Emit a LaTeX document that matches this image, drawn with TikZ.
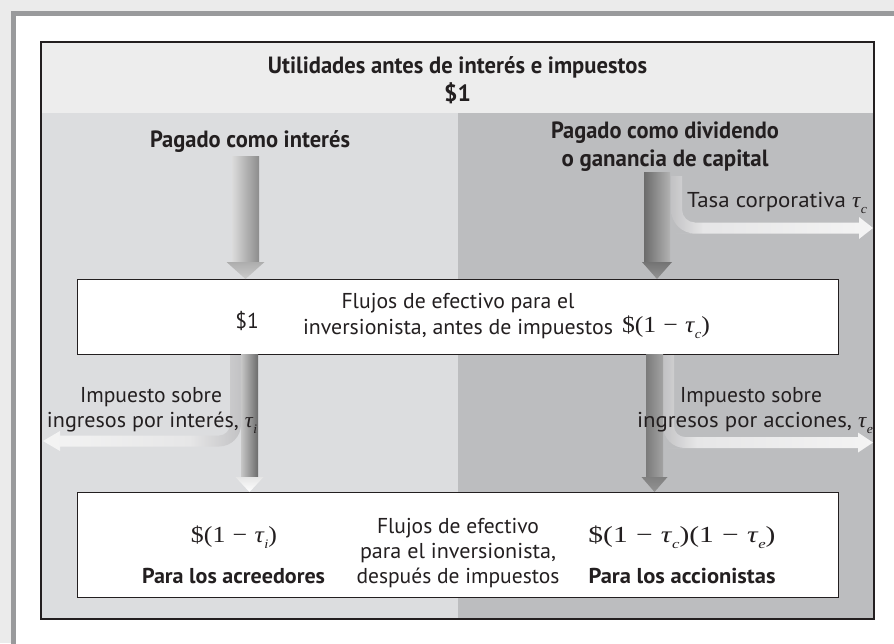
\documentclass[tikz,border=0pt]{standalone}
\usepackage{graphicx}
\usepackage{fontspec}
\setmainfont{PT Sans}
\newfontfamily\serifm{Liberation Serif}
\usetikzlibrary{calc}
\definecolor{bgout}{HTML}{EBEBEB}
\definecolor{framec}{HTML}{999A9C}
\definecolor{headc}{HTML}{EDEDED}
\definecolor{leftc}{HTML}{DCDDDF}
\definecolor{rightc}{HTML}{BCBDBF}
\definecolor{txtc}{HTML}{231F20}
\definecolor{boxline}{HTML}{231F20}
\definecolor{brgray}{HTML}{C2C2C4}
\definecolor{brmid}{HTML}{E6E6E7}
\definecolor{brwhite}{HTML}{F4F4F4}
\pgfdeclarehorizontalshading{brRight}{100bp}{color(0bp)=(brgray); color(25bp)=(brgray); color(33bp)=(brmid); color(75bp)=(brwhite); color(100bp)=(brwhite)}
\pgfdeclarehorizontalshading{brLeft}{100bp}{color(0bp)=(brwhite); color(25bp)=(brwhite); color(62bp)=(brmid); color(75bp)=(brgray); color(100bp)=(brgray)}
\newcommand{\myfn}{\fontsize{21.5}{25}\selectfont}
\newcommand{\myfb}{\fontsize{21.5}{25}\selectfont\bfseries}
\newcommand{\myft}{\fontsize{23.5}{28}\selectfont\bfseries}
\newcommand{\fitw}[2]{\resizebox{#1pt}{\height}{#2}}
\newcommand{\tausub}[1]{{\serifm\itshape τ}\kern0.5pt\raisebox{-0.28em}{\fontsize{13}{13}\selectfont\serifm\itshape #1}}
\newcommand{\mns}{\hspace{0.28em}−\hspace{0.28em}}
\begin{document}
\begin{tikzpicture}[x=1pt,y=-1pt,
  txt/.style={text=txtc, inner sep=0pt, outer sep=0pt, anchor=base, font=\myfn},
  btxt/.style={txt, font=\myfb},
  ttxt/.style={txt, font=\myft},
  mtxt/.style={txt, font=\fontsize{23}{25}\selectfont\serifm},
  box/.style={draw=boxline, line width=1pt, fill=white, inner sep=0pt, outer sep=0pt}]
\useasboundingbox (0,0) rectangle (894,643);
\clip (0,0) rectangle (894,643);
% background and frame
\fill[bgout] (0,0) rectangle (894,643);
\draw[framec, line width=5pt, fill=white] (13,13.3) rectangle (910,660);
% inner panel
\fill[headc] (41,42) rectangle (874,113);
\fill[leftc] (41,113) rectangle (458,619);
\fill[rightc] (458,113) rectangle (874,619);
\draw[boxline, line width=1.1pt] (41,42) rectangle (874,619);
% boxes
\node[box, minimum width=761pt, minimum height=75pt] (mid) at (457.5,316.5) {};
\node[box, minimum width=761pt, minimum height=105pt] (low) at (457.5,544.5) {};
% arrow coordinates
\coordinate (ulS) at (245.5,156);
\coordinate (ulT) at (ulS |- mid.north);
\coordinate (urS) at (657,172);
\coordinate (urT) at (urS |- mid.north);
\coordinate (llS) at (249.5,354.5);
\coordinate (llT) at (llS |- low.north);
\coordinate (lrS) at (654.5,354.5);
\coordinate (lrT) at (lrS |- low.north);
\coordinate (tauC) at (873,228);
\coordinate (tauI) at (43,441);
\coordinate (tauE) at (873,442.5);
% branches
\shade[shading=brRight] (671,176) -- (671,200) [rounded corners=24pt] -- (671,233.5) -- (700,233.5) [sharp corners] -- (859,233.5) -- (859,239) -- (tauC) -- (859,217) -- (859,222.5) -- (700,222.5) [rounded corners=13pt] -- (682,222.5) -- (682,200) [sharp corners] -- (682,176) -- cycle;
\shade[shading=brLeft] (230,355) -- (230,380) [rounded corners=11pt] -- (230,435.5) -- (215,435.5) [sharp corners] -- (60,435.5) -- (60,431) -- (tauI) -- (60,451) -- (60,446.5) -- (215,446.5) [rounded corners=22pt] -- (241,446.5) -- (241,420) [sharp corners] -- (241,355) -- cycle;
\shade[shading=brRight] (663,355) -- (663,380) [rounded corners=22pt] -- (663,448) -- (690,448) [sharp corners] -- (858,448) -- (858,452.5) -- (tauE) -- (858,432.5) -- (858,437) -- (690,437) [rounded corners=11pt] -- (674,437) -- (674,420) [sharp corners] -- (674,355) -- cycle;
% shafts and heads
\shade[left color=black!14, right color=black!45] ($(ulS)+(-13.5,0)$) rectangle ($(ulT)+(13.5,-16)$);
\shade[top color=black!32, bottom color=black!20] ($(ulT)+(-19,-17)$) -- ($(ulT)+(19,-17)$) -- (ulT) -- cycle;
\shade[left color=black!58, right color=black!30] ($(urS)+(-13,0)$) rectangle ($(urT)+(13,-16)$);
\shade[top color=black!55, bottom color=black!42] ($(urT)+(-15,-17)$) -- ($(urT)+(15,-17)$) -- (urT) -- cycle;
\shade[left color=black!22, right color=black!58] ($(llS)+(-8.5,0)$) rectangle ($(llT)+(8.5,-14)$);
\shade[top color=black!10, bottom color=white] ($(llT)+(-14,-15)$) -- ($(llT)+(14,-15)$) -- (llT) -- cycle;
\shade[left color=black!52, right color=black!36] ($(lrS)+(-8.5,0)$) rectangle ($(lrT)+(8.5,-14)$);
\shade[top color=black!50, bottom color=black!42] ($(lrT)+(-13,-15)$) -- ($(lrT)+(13,-15)$) -- (lrT) -- cycle;
% texts
\node[ttxt] (t1) at (457.5,73) {\fitw{379}{Utilidades antes de interés e impuestos}};
\node[ttxt] (t2) at (457.5,101) {\$1};
\node[ttxt] (pint) at (250,147) {\fitw{200}{Pagado como interés}};
\node[ttxt] (pdiv1) at (665,138) {\fitw{228}{Pagado como dividendo}};
\node[ttxt] (pdiv2) at (665,166) {\fitw{207}{o ganancia de capital}};
\node[txt] (tasa) at (777,207) {\fitw{180}{Tasa corporativa \tausub{c}}};
\node[txt] (m1) at (247,328) {\$1};
\node[txt] (mf1) at (458,308) {\fitw{233}{Flujos de efectivo para el}};
\node[txt] (mf2) at (458,334) {\fitw{310}{inversionista, antes de impuestos}};
\node[mtxt] (mtc) at (666,332) {\fitw{88}{\$(1\mns\tausub{c})}};
\node[txt] (il1) at (151,402) {\fitw{142}{Impuesto sobre}};
\node[txt] (il2) at (152,427) {\fitw{210}{ingresos por interés, \tausub{i}}};
\node[txt] (ir1) at (751,402) {\fitw{142}{Impuesto sobre}};
\node[txt] (ir2) at (755,427) {\fitw{236}{ingresos por acciones, \tausub{e}}};
\node[mtxt] (lo1) at (234,542) {\fitw{86}{\$(1\mns\tausub{i})}};
\node[btxt] (acr) at (233.5,583) {\fitw{183}{Para los acreedores}};
\node[txt] (lf1) at (458,533) {\fitw{162}{Flujos de efectivo}};
\node[txt] (lf2) at (458,558) {\fitw{196}{para el inversionista,}};
\node[txt] (lf3) at (458,583) {\fitw{203}{después de impuestos}};
\node[mtxt] (lo2) at (682,542) {\fitw{187}{\$(1\mns\tausub{c})(1\mns\tausub{e})}};
\node[btxt] (acc) at (682,583) {\fitw{187}{Para los accionistas}};
\end{tikzpicture}
\end{document}
